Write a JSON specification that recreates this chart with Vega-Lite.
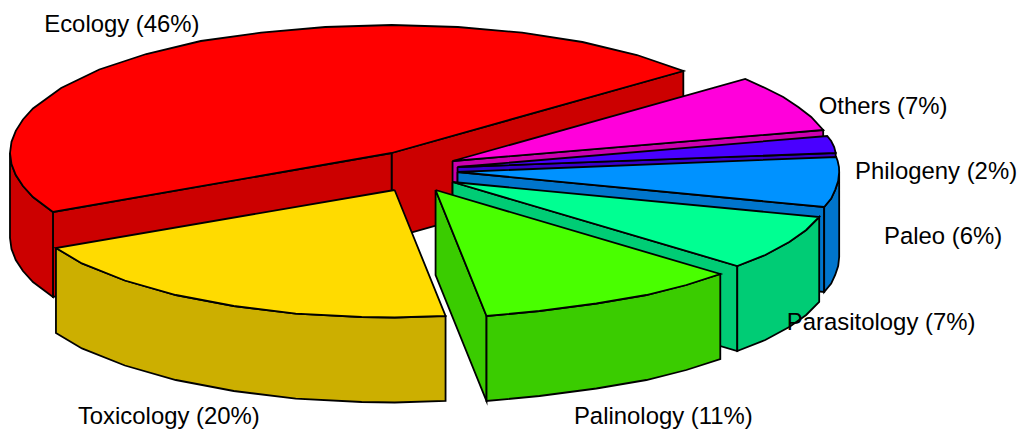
{
"$schema":"https://vega.github.io/schema/vega-lite/v6.json",
"width":1018,"height":431,"padding":0,
"autosize":{"type":"fit","contains":"padding"},
"background":"white",
"view":{"stroke":null},
"layer":[
{"data":{"values":[
{"s":"e1","t":"Ecology dark","x":392,"y":153},{"s":"e1","t":"Ecology dark","x":684,"y":71},{"s":"e1","t":"Ecology dark","x":684,"y":156},{"s":"e1","t":"Ecology dark","x":392,"y":238},{"s":"e1","t":"Ecology dark","x":392,"y":153},
{"s":"e2","t":"Ecology dark","x":53,"y":212},{"s":"e2","t":"Ecology dark","x":392,"y":153},{"s":"e2","t":"Ecology dark","x":392,"y":238},{"s":"e2","t":"Ecology dark","x":53,"y":297},{"s":"e2","t":"Ecology dark","x":53,"y":212},
{"s":"e3","t":"Ecology dark","x":10,"y":153},{"s":"e3","t":"Ecology dark","x":11.5,"y":164},{"s":"e3","t":"Ecology dark","x":15.8,"y":175},{"s":"e3","t":"Ecology dark","x":23,"y":186},{"s":"e3","t":"Ecology dark","x":33,"y":197},{"s":"e3","t":"Ecology dark","x":53,"y":212},{"s":"e3","t":"Ecology dark","x":53,"y":297},{"s":"e3","t":"Ecology dark","x":33,"y":282},{"s":"e3","t":"Ecology dark","x":23,"y":271},{"s":"e3","t":"Ecology dark","x":15.8,"y":260},{"s":"e3","t":"Ecology dark","x":11.5,"y":249},{"s":"e3","t":"Ecology dark","x":10,"y":238},{"s":"e3","t":"Ecology dark","x":10,"y":153},
{"s":"e4","t":"Ecology","x":392,"y":153},{"s":"e4","t":"Ecology","x":684,"y":71},{"s":"e4","t":"Ecology","x":637.6,"y":55},{"s":"e4","t":"Ecology","x":583,"y":42},{"s":"e4","t":"Ecology","x":522.7,"y":32.7},{"s":"e4","t":"Ecology","x":458.3,"y":27},{"s":"e4","t":"Ecology","x":392,"y":25},{"s":"e4","t":"Ecology","x":325.7,"y":27},{"s":"e4","t":"Ecology","x":261.3,"y":32.7},{"s":"e4","t":"Ecology","x":201,"y":41},{"s":"e4","t":"Ecology","x":146.4,"y":54},{"s":"e4","t":"Ecology","x":99.4,"y":69.5},{"s":"e4","t":"Ecology","x":61.2,"y":88},{"s":"e4","t":"Ecology","x":33,"y":108.5},{"s":"e4","t":"Ecology","x":23,"y":119.5},{"s":"e4","t":"Ecology","x":15.8,"y":130.8},{"s":"e4","t":"Ecology","x":11.5,"y":141.8},{"s":"e4","t":"Ecology","x":10,"y":153},{"s":"e4","t":"Ecology","x":11.5,"y":164},{"s":"e4","t":"Ecology","x":15.8,"y":175},{"s":"e4","t":"Ecology","x":23,"y":186},{"s":"e4","t":"Ecology","x":33,"y":197},{"s":"e4","t":"Ecology","x":53,"y":212},{"s":"e4","t":"Ecology","x":392,"y":153},

{"s":"o1","t":"Others dark","x":453,"y":161},{"s":"o1","t":"Others dark","x":824,"y":130},{"s":"o1","t":"Others dark","x":824,"y":215},{"s":"o1","t":"Others dark","x":453,"y":246},{"s":"o1","t":"Others dark","x":453,"y":161},
{"s":"o2","t":"Others","x":453,"y":161},{"s":"o2","t":"Others","x":746,"y":79},{"s":"o2","t":"Others","x":766,"y":88},{"s":"o2","t":"Others","x":784,"y":97},{"s":"o2","t":"Others","x":799,"y":107},{"s":"o2","t":"Others","x":812,"y":117},{"s":"o2","t":"Others","x":824,"y":130},{"s":"o2","t":"Others","x":453,"y":161},

{"s":"v1","t":"Philogeny dark","x":458,"y":167},{"s":"v1","t":"Philogeny dark","x":836.5,"y":153},{"s":"v1","t":"Philogeny dark","x":836.5,"y":238},{"s":"v1","t":"Philogeny dark","x":458,"y":252},{"s":"v1","t":"Philogeny dark","x":458,"y":167},
{"s":"v2","t":"Philogeny","x":458,"y":167},{"s":"v2","t":"Philogeny","x":828,"y":136},{"s":"v2","t":"Philogeny","x":832,"y":141},{"s":"v2","t":"Philogeny","x":835,"y":147},{"s":"v2","t":"Philogeny","x":836.5,"y":153},{"s":"v2","t":"Philogeny","x":458,"y":167},

{"s":"b1","t":"Paleo dark","x":458,"y":172},{"s":"b1","t":"Paleo dark","x":825,"y":207},{"s":"b1","t":"Paleo dark","x":825,"y":292},{"s":"b1","t":"Paleo dark","x":458,"y":257},{"s":"b1","t":"Paleo dark","x":458,"y":172},
{"s":"b2","t":"Paleo dark","x":825,"y":207},{"s":"b2","t":"Paleo dark","x":832,"y":198.6},{"s":"b2","t":"Paleo dark","x":836,"y":189.8},{"s":"b2","t":"Paleo dark","x":839,"y":181},{"s":"b2","t":"Paleo dark","x":840,"y":172},{"s":"b2","t":"Paleo dark","x":840,"y":257},{"s":"b2","t":"Paleo dark","x":839,"y":266},{"s":"b2","t":"Paleo dark","x":836,"y":275},{"s":"b2","t":"Paleo dark","x":832,"y":283.6},{"s":"b2","t":"Paleo dark","x":825,"y":292},{"s":"b2","t":"Paleo dark","x":825,"y":207},
{"s":"b3","t":"Paleo","x":458,"y":172},{"s":"b3","t":"Paleo","x":837,"y":157},{"s":"b3","t":"Paleo","x":838.5,"y":161},{"s":"b3","t":"Paleo","x":839.8,"y":167},{"s":"b3","t":"Paleo","x":840,"y":172},{"s":"b3","t":"Paleo","x":839,"y":181},{"s":"b3","t":"Paleo","x":836,"y":189.8},{"s":"b3","t":"Paleo","x":832,"y":198.6},{"s":"b3","t":"Paleo","x":825,"y":207},{"s":"b3","t":"Paleo","x":458,"y":172},

{"s":"p1","t":"Parasitology dark","x":453,"y":182},{"s":"p1","t":"Parasitology dark","x":738,"y":266},{"s":"p1","t":"Parasitology dark","x":738,"y":351},{"s":"p1","t":"Parasitology dark","x":453,"y":267},{"s":"p1","t":"Parasitology dark","x":453,"y":182},
{"s":"p2","t":"Parasitology dark","x":738,"y":266},{"s":"p2","t":"Parasitology dark","x":766,"y":255},{"s":"p2","t":"Parasitology dark","x":790,"y":242},{"s":"p2","t":"Parasitology dark","x":807,"y":230},{"s":"p2","t":"Parasitology dark","x":820,"y":217},{"s":"p2","t":"Parasitology dark","x":820,"y":302},{"s":"p2","t":"Parasitology dark","x":807,"y":315},{"s":"p2","t":"Parasitology dark","x":790,"y":327},{"s":"p2","t":"Parasitology dark","x":766,"y":340},{"s":"p2","t":"Parasitology dark","x":738,"y":351},{"s":"p2","t":"Parasitology dark","x":738,"y":266},
{"s":"p3","t":"Parasitology","x":453,"y":182},{"s":"p3","t":"Parasitology","x":820,"y":217},{"s":"p3","t":"Parasitology","x":807,"y":230},{"s":"p3","t":"Parasitology","x":790,"y":242},{"s":"p3","t":"Parasitology","x":766,"y":255},{"s":"p3","t":"Parasitology","x":738,"y":266},{"s":"p3","t":"Parasitology","x":453,"y":182},

{"s":"g1","t":"Palinology dark","x":436,"y":190},{"s":"g1","t":"Palinology dark","x":487,"y":316},{"s":"g1","t":"Palinology dark","x":487,"y":401},{"s":"g1","t":"Palinology dark","x":436,"y":275},{"s":"g1","t":"Palinology dark","x":436,"y":190},
{"s":"g2","t":"Palinology dark","x":487,"y":316},{"s":"g2","t":"Palinology dark","x":540,"y":311},{"s":"g2","t":"Palinology dark","x":597,"y":303.5},{"s":"g2","t":"Palinology dark","x":647,"y":295},{"s":"g2","t":"Palinology dark","x":687,"y":285},{"s":"g2","t":"Palinology dark","x":721,"y":274},{"s":"g2","t":"Palinology dark","x":721,"y":359},{"s":"g2","t":"Palinology dark","x":687,"y":370},{"s":"g2","t":"Palinology dark","x":647,"y":380},{"s":"g2","t":"Palinology dark","x":597,"y":388.5},{"s":"g2","t":"Palinology dark","x":540,"y":396},{"s":"g2","t":"Palinology dark","x":487,"y":401},{"s":"g2","t":"Palinology dark","x":487,"y":316},
{"s":"g3","t":"Palinology","x":436,"y":190},{"s":"g3","t":"Palinology","x":721,"y":274},{"s":"g3","t":"Palinology","x":687,"y":285},{"s":"g3","t":"Palinology","x":647,"y":295},{"s":"g3","t":"Palinology","x":597,"y":303.5},{"s":"g3","t":"Palinology","x":540,"y":311},{"s":"g3","t":"Palinology","x":487,"y":316},{"s":"g3","t":"Palinology","x":436,"y":190},

{"s":"y1","t":"Toxicology dark","x":56,"y":248},{"s":"y1","t":"Toxicology dark","x":82,"y":263.4},{"s":"y1","t":"Toxicology dark","x":125,"y":280.5},{"s":"y1","t":"Toxicology dark","x":176,"y":295},{"s":"y1","t":"Toxicology dark","x":234,"y":306},{"s":"y1","t":"Toxicology dark","x":296,"y":313.6},{"s":"y1","t":"Toxicology dark","x":362,"y":317},{"s":"y1","t":"Toxicology dark","x":395,"y":317.5},{"s":"y1","t":"Toxicology dark","x":446,"y":316},{"s":"y1","t":"Toxicology dark","x":446,"y":401},{"s":"y1","t":"Toxicology dark","x":395,"y":402.5},{"s":"y1","t":"Toxicology dark","x":362,"y":402},{"s":"y1","t":"Toxicology dark","x":296,"y":398.6},{"s":"y1","t":"Toxicology dark","x":234,"y":391},{"s":"y1","t":"Toxicology dark","x":176,"y":380},{"s":"y1","t":"Toxicology dark","x":125,"y":365.5},{"s":"y1","t":"Toxicology dark","x":82,"y":348.4},{"s":"y1","t":"Toxicology dark","x":56,"y":333},{"s":"y1","t":"Toxicology dark","x":56,"y":248},
{"s":"y2","t":"Toxicology","x":395,"y":190},{"s":"y2","t":"Toxicology","x":56,"y":248},{"s":"y2","t":"Toxicology","x":82,"y":263.4},{"s":"y2","t":"Toxicology","x":125,"y":280.5},{"s":"y2","t":"Toxicology","x":176,"y":295},{"s":"y2","t":"Toxicology","x":234,"y":306},{"s":"y2","t":"Toxicology","x":296,"y":313.6},{"s":"y2","t":"Toxicology","x":362,"y":317},{"s":"y2","t":"Toxicology","x":395,"y":317.5},{"s":"y2","t":"Toxicology","x":446,"y":316},{"s":"y2","t":"Toxicology","x":395,"y":190}
]},
"mark":{"type":"line","stroke":"black","strokeWidth":1.8,"strokeJoin":"miter","strokeMiterLimit":10,"clip":false},
"encoding":{
"x":{"field":"x","type":"quantitative","scale":{"domain":[0,1018],"nice":false,"zero":false},"axis":null},
"y":{"field":"y","type":"quantitative","scale":{"domain":[431,0],"nice":false,"zero":false},"axis":null},
"detail":{"field":"s"},
"order":{"value":null},
"fill":{"field":"t","type":"nominal","legend":null,"scale":{
"domain":["Ecology","Ecology dark","Toxicology","Toxicology dark","Palinology","Palinology dark","Parasitology","Parasitology dark","Paleo","Paleo dark","Philogeny","Philogeny dark","Others","Others dark"],
"range":["#FF0000","#CC0000","#FFDB00","#CCAF00","#49FF00","#3ACC00","#00FF92","#00CC75","#0092FF","#0075CC","#4900FF","#3A00CC","#FF00DB","#CC00AF"]}}
}},
{"data":{"values":[
{"label":"Ecology (46%)","x":122,"y":25},
{"label":"Toxicology (20%)","x":169,"y":417},
{"label":"Palinology (11%)","x":664,"y":417},
{"label":"Parasitology (7%)","x":882,"y":323},
{"label":"Paleo (6%)","x":944,"y":237},
{"label":"Philogeny (2%)","x":937,"y":172},
{"label":"Others (7%)","x":884,"y":107}
]},
"mark":{"type":"text","font":"Liberation Sans","fontSize":23.9,"color":"black","align":"center","baseline":"middle"},
"encoding":{
"x":{"field":"x","type":"quantitative","scale":{"domain":[0,1018],"nice":false,"zero":false},"axis":null},
"y":{"field":"y","type":"quantitative","scale":{"domain":[431,0],"nice":false,"zero":false},"axis":null},
"text":{"field":"label"}
}}
]
}
